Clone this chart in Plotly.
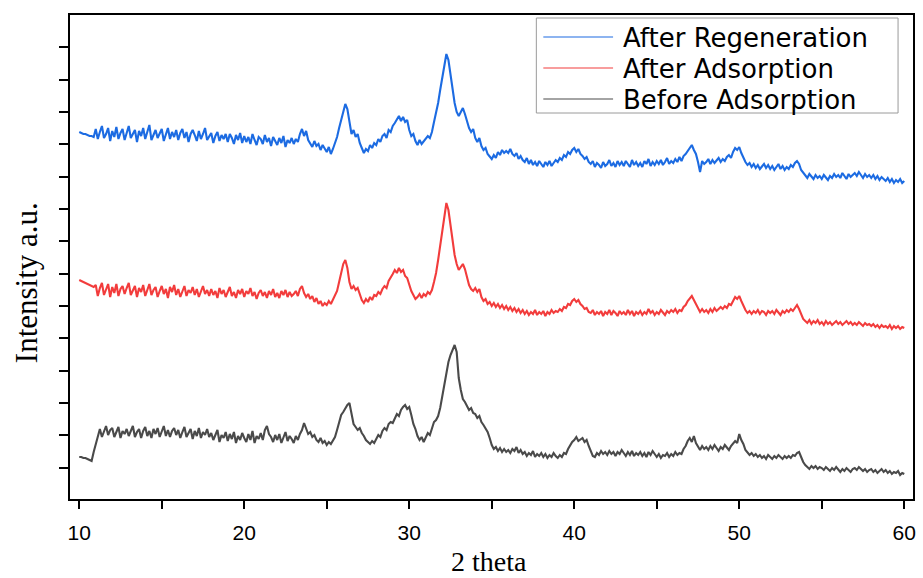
import plotly.graph_objects as go

# 2-theta scan: 10..60 deg, 0.125 deg step (8 points per degree)
TWO_THETA_START = 10.0
TWO_THETA_STEP = 0.125
N_POINTS = 401
two_theta = [round(TWO_THETA_START + TWO_THETA_STEP * i, 3) for i in range(N_POINTS)]

# Intensities (a.u., stacked); one row per degree
after_regeneration = [
    368, 367, 366, 366, 365, 364, 364, 363,   # 10
    371, 361, 368, 374, 362, 366, 372, 359,   # 11
    369, 363, 373, 361, 367, 371, 360, 368,   # 12
    374, 362, 366, 370, 358, 369, 364, 372,   # 13
    361, 368, 375, 360, 366, 370, 362, 367,   # 14
    371, 359, 366, 372, 361, 368, 363, 370,   # 15
    360, 367, 371, 362, 368, 358, 366, 370,   # 16
    365, 359, 369, 361, 366, 372, 360, 364,   # 17
    367, 357, 364, 368, 359, 365, 361, 366,   # 18
    358, 366, 362, 356, 365, 360, 367, 357,   # 19
    364, 358, 363, 356, 366, 360, 355, 363,   # 20
    361, 356, 365, 358, 362, 354, 363, 359,   # 21
    355, 362, 357, 364, 353, 360, 357, 362,   # 22
    356, 361, 358, 366, 371, 364, 369, 360,   # 23
    357, 353, 359, 354, 356, 350, 355, 351,   # 24
    348, 353, 346, 351, 357, 363, 372, 380,   # 25
    388, 396, 391, 377, 366, 370, 363, 366,   # 26
    357, 352, 347, 351, 349, 355, 352, 357,   # 27
    355, 361, 358, 364, 366, 362, 370, 368,   # 28
    374, 377, 380, 384, 379, 383, 378, 380,   # 29
    370, 364, 366, 359, 355, 360, 356, 359,   # 30
    361, 364, 362, 368, 378, 386, 397, 410,   # 31
    422, 433, 446, 440, 425, 412, 397, 388,   # 32
    384, 388, 392, 386, 378, 372, 368, 371,   # 33
    362, 358, 362, 354, 350, 352, 346, 343,   # 34
    341, 345, 342, 348, 345, 350, 347, 349,   # 35
    347, 351, 346, 344, 347, 341, 344, 340,   # 36
    338, 342, 336, 340, 335, 338, 334, 339,   # 37
    336, 333, 338, 335, 339, 334, 337, 340,   # 38
    338, 342, 340, 345, 343, 348, 346, 350,   # 39
    352, 348, 351, 346, 344, 341, 343, 338,   # 40
    336, 339, 333, 337, 335, 332, 338, 334,   # 41
    336, 340, 334, 337, 333, 339, 335, 338,   # 42
    334, 339, 336, 333, 340, 335, 338, 334,   # 43
    337, 333, 339, 336, 341, 334, 338, 335,   # 44
    339, 336, 340, 335, 338, 342, 336, 339,   # 45
    337, 341, 338, 343, 339, 344, 346, 349,   # 46
    351, 355, 350, 346, 338, 328, 339, 336,   # 47
    338, 341, 336, 340, 337, 339, 342, 338,   # 48
    341, 339, 343, 345, 342, 348, 352, 350,   # 49
    353, 347, 342, 338, 335, 337, 333, 336,   # 50
    332, 335, 331, 334, 336, 332, 335, 331,   # 51
    334, 330, 333, 336, 331, 334, 330, 333,   # 52
    331, 335, 333, 337, 339, 336, 330, 327,   # 53
    325, 322, 326, 323, 321, 325, 322, 324,   # 54
    321, 325, 323, 320, 324, 322, 326, 323,   # 55
    325, 322, 327, 324, 321, 326, 323, 325,   # 56
    327, 324, 328, 325, 322, 326, 323, 325,   # 57
    322, 325, 321, 324, 320, 323, 321, 319,   # 58
    322, 318, 321, 317, 320, 318, 321, 317,   # 59
    319,                                      # 60
]

after_adsorption = [
    220, 219, 218, 217, 216, 215, 214, 213,   # 10
    215, 204, 212, 217, 205, 211, 216, 203,   # 11
    213, 207, 216, 204, 211, 214, 206, 212,   # 12
    217, 205, 210, 214, 203, 212, 208, 215,   # 13
    204, 211, 216, 205, 210, 213, 203, 209,   # 14
    214, 206, 211, 202, 213, 208, 215, 205,   # 15
    211, 203, 209, 214, 204, 210, 207, 213,   # 16
    205, 211, 203, 209, 214, 206, 210, 204,   # 17
    211, 205, 209, 202, 212, 206, 210, 203,   # 18
    209, 213, 204, 208, 202, 210, 206, 211,   # 19
    203, 209, 206, 212, 204, 208, 201, 207,   # 20
    210, 204, 208, 202, 209, 205, 211, 203,   # 21
    207, 202, 209, 205, 210, 203, 208, 204,   # 22
    206, 209, 204, 211, 214, 207, 203, 206,   # 23
    201, 204, 198, 202, 196, 199, 194, 197,   # 24
    195, 199, 196, 200, 204, 209, 218, 228,   # 25
    236, 240, 232, 218, 211, 214, 210, 212,   # 26
    205, 200, 197, 201, 198, 203, 200, 205,   # 27
    204, 208, 206, 211, 214, 212, 219, 222,   # 28
    226, 230, 227, 232, 228, 230, 224, 222,   # 29
    214, 209, 205, 201, 203, 206, 202, 206,   # 30
    204, 208, 206, 210, 218, 227, 240, 255,   # 31
    272, 285, 297, 290, 273, 258, 245, 236,   # 32
    230, 233, 236, 231, 222, 215, 211, 209,   # 33
    212, 208, 211, 203, 199, 201, 196, 198,   # 34
    194, 197, 193, 196, 192, 195, 191, 194,   # 35
    190, 193, 189, 192, 188, 191, 187, 190,   # 36
    186, 189, 185, 188, 186, 190, 185, 188,   # 37
    186, 189, 184, 188, 186, 190, 187, 189,   # 38
    188, 191, 189, 193, 192, 196, 195, 199,   # 39
    201, 198, 200, 196, 194, 191, 192, 188,   # 40
    187, 190, 185, 188, 186, 189, 184, 188,   # 41
    186, 190, 185, 189, 187, 184, 189, 186,   # 42
    188, 185, 190, 186, 189, 184, 188, 186,   # 43
    189, 185, 188, 186, 191, 187, 189, 185,   # 44
    188, 186, 190, 187, 185, 189, 187, 190,   # 45
    188, 191, 187, 190, 189, 193, 195, 199,   # 46
    201, 204, 200, 196, 192, 188, 191, 188,   # 47
    190, 187, 191, 188, 192, 189, 191, 193,   # 48
    191, 194, 192, 196, 195, 199, 203, 201,   # 49
    204, 199, 194, 190, 187, 189, 186, 189,   # 50
    187, 190, 186, 189, 188, 185, 189, 187,   # 51
    189, 186, 190, 187, 185, 189, 187, 190,   # 52
    188, 191, 189, 192, 195, 191, 185, 181,   # 53
    179, 177, 180, 176, 179, 177, 180, 176,   # 54
    178, 175, 179, 176, 178, 175, 177, 179,   # 55
    176, 178, 175, 177, 179, 176, 178, 175,   # 56
    177, 175, 178, 176, 174, 177, 175, 176,   # 57
    174, 176, 173, 175, 172, 175, 173, 174,   # 58
    172, 175, 171, 174, 172, 174, 171, 173,   # 59
    172,                                      # 60
]

before_adsorption = [
    43, 43, 42, 42, 41, 40, 39, 48,   # 10
    56, 64, 71, 63, 69, 74, 65, 70,   # 11
    72, 63, 68, 73, 62, 69, 66, 71,   # 12
    64, 70, 74, 63, 68, 71, 62, 69,   # 13
    73, 64, 69, 62, 71, 66, 72, 63,   # 14
    68, 74, 64, 70, 63, 69, 72, 65,   # 15
    70, 62, 68, 73, 63, 67, 71, 61,   # 16
    69, 64, 72, 62, 68, 65, 71, 63,   # 17
    67, 60, 66, 70, 58, 65, 62, 68,   # 18
    59, 66, 61, 68, 57, 64, 60, 67,   # 19
    62, 58, 66, 60, 69, 57, 64, 61,   # 20
    67, 60, 70, 74, 66, 63, 58, 65,   # 21
    60, 66, 57, 63, 68, 59, 64, 61,   # 22
    57, 64, 60, 66, 70, 77, 71, 66,   # 23
    68, 63, 65, 60, 58, 62, 57, 59,   # 24
    55, 58, 56, 60, 63, 70, 78, 85,   # 25
    88, 92, 95, 97, 86, 76, 73, 70,   # 26
    72, 67, 64, 60, 58, 56, 59, 57,   # 27
    61, 65, 63, 69, 72, 70, 76, 78,   # 28
    77, 82, 86, 84, 90, 93, 95, 91,   # 29
    93, 85, 76, 71, 64, 60, 63, 58,   # 30
    62, 67, 65, 72, 78, 80, 84, 92,   # 31
    104, 118, 130, 138, 145, 150, 155, 148,   # 32
    122, 110, 101, 98, 94, 90, 92, 87,   # 33
    86, 82, 84, 78, 75, 72, 68, 62,   # 34
    55, 51, 53, 49, 52, 48, 51, 48,   # 35
    50, 47, 51, 49, 53, 47, 50, 46,   # 36
    48, 44, 47, 45, 49, 43, 46, 44,   # 37
    47, 43, 46, 42, 45, 43, 47, 44,   # 38
    42, 45, 43, 47, 46, 51, 55, 58,   # 39
    60, 63, 59, 61, 62, 58, 60, 54,   # 40
    48, 44, 43, 47, 45, 49, 46, 48,   # 41
    45, 49, 46, 48, 44, 48, 46, 50,   # 42
    47, 44, 48, 45, 49, 44, 47, 45,   # 43
    48, 44, 47, 43, 48, 45, 49, 46,   # 44
    43, 46, 42, 45, 44, 47, 43, 46,   # 45
    44, 48, 45, 47, 46, 51, 54, 59,   # 46
    62, 58, 64, 57, 53, 50, 54, 51,   # 47
    53, 50, 54, 51, 55, 52, 49, 53,   # 48
    51, 55, 52, 50, 54, 56, 59, 57,   # 49
    66, 60, 56, 50, 47, 45, 47, 44,   # 50
    46, 43, 45, 42, 44, 41, 45, 43,   # 51
    41, 44, 42, 45, 43, 41, 44, 42,   # 52
    44, 42, 45, 44, 47, 48, 43, 38,   # 53
    35, 33, 31, 34, 32, 34, 31, 33,   # 54
    32, 30, 33, 31, 29, 32, 30, 33,   # 55
    30, 28, 31, 29, 32, 30, 28, 31,   # 56
    32, 30, 33, 31, 29, 31, 28, 30,   # 57
    31, 28, 30, 27, 29, 31, 28, 30,   # 58
    27, 29, 26, 28, 27, 29, 25, 27,   # 59
    26,                               # 60
]

series_names = ["After Regeneration", "After Adsorption", "Before Adsorption"]
series_values = [after_regeneration, after_adsorption, before_adsorption]
series_colors = ["#1c6be2", "#f23c3c", "#4a4a4a"]

x_tick_vals = [10, 20, 30, 40, 50, 60]
x_tick_text = ["10", "20", "30", "40", "50", "60"]

X_RANGE = [9.44, 60.53]
Y_RANGE = [1, 485]
left_y_ticks = [32.2 + 32.35 * k for k in range(14)]
right_y_ticks = [45 + 49 * k for k in range(9)]
top_major = [19.64, 29.87, 40.07, 50.31]
top_minor = [14.58, 24.79, 34.99, 45.22, 55.36]

W, H = 923, 578
ML, MR, MT, MB = 70, 7, 15, 79
PW, PH = W - ML - MR, H - MT - MB


def px(xp):
    return (xp - ML) / PW


def py(yp):
    return (H - MB - yp) / PH


fig = go.Figure()
for name, vals, col in zip(series_names, series_values, series_colors):
    n = min(len(vals), len(two_theta))
    fig.add_trace(go.Scatter(
        x=two_theta[:n], y=vals[:n], mode="lines", name=name,
        line=dict(color=col, width=2.1), showlegend=False,
    ))

# legend box drawn by hand (to match the wide reference legend)
shapes = [dict(type="rect", xref="paper", yref="paper",
               x0=px(538), x1=px(901), y0=py(113), y1=py(18),
               line=dict(color="#9a9a9a", width=1), fillcolor="white",
               layer="above")]
annotations = []
row_y = [37, 68, 99]
for name, col, ry in zip(series_names, series_colors, row_y):
    shapes.append(dict(type="line", xref="paper", yref="paper",
                       x0=px(545), x1=px(615), y0=py(ry), y1=py(ry),
                       line=dict(color=col, width=1.2), layer="above"))
    annotations.append(dict(text=name, xref="paper", yref="paper",
                            x=px(623), y=py(ry + 1), xanchor="left", yanchor="middle",
                            showarrow=False,
                            font=dict(family="DejaVu Sans", size=26, color="black")))

annotations += [
    dict(text="2 theta", xref="paper", yref="paper", x=px(490), y=py(561),
         xanchor="center", yanchor="middle", showarrow=False,
         font=dict(family="Liberation Serif", size=28, color="black")),
    dict(text="Intensity a.u.", xref="paper", yref="paper", x=px(27), y=py(283),
         xanchor="center", yanchor="middle", showarrow=False, textangle=-90,
         font=dict(family="Liberation Serif", size=31, color="black")),
]

fig.update_layout(
    width=W, height=H,
    margin=dict(l=ML, r=MR, t=MT, b=MB),
    paper_bgcolor="white", plot_bgcolor="white",
    showlegend=False,
    shapes=shapes,
    annotations=annotations,
    xaxis=dict(
        range=X_RANGE, tickvals=x_tick_vals, ticktext=x_tick_text,
        ticks="outside", ticklen=8, tickwidth=1.5, tickcolor="black",
        ticklabelstandoff=6,
        minor=dict(tickvals=[15, 25, 35, 45, 55], ticks="outside", ticklen=8,
                   tickwidth=1.5, tickcolor="black"),
        showline=True, linecolor="black", linewidth=2, mirror=True,
        showgrid=False, zeroline=False,
        tickfont=dict(family="Liberation Sans", size=21, color="black"),
    ),
    xaxis2=dict(
        range=X_RANGE, overlaying="x", side="top", anchor="y",
        tickvals=top_major, ticks="inside", ticklen=9, tickwidth=1.5,
        tickcolor="black", showticklabels=False,
        minor=dict(tickvals=top_minor, ticks="inside", ticklen=6,
                   tickwidth=1.5, tickcolor="black"),
        showline=False, showgrid=False, zeroline=False,
    ),
    yaxis=dict(
        range=Y_RANGE, tickvals=left_y_ticks, ticks="outside", ticklen=9,
        tickwidth=1.5, tickcolor="black", showticklabels=False,
        showline=True, linecolor="black", linewidth=2, mirror=True,
        showgrid=False, zeroline=False,
    ),
    yaxis2=dict(
        range=Y_RANGE, overlaying="y", side="right", anchor="x",
        tickvals=right_y_ticks, ticks="inside", ticklen=9, tickwidth=1.5,
        tickcolor="black", showticklabels=False,
        showline=False, showgrid=False, zeroline=False,
    ),
)

fig.write_html("out.html", config={"displayModeBar": False},
               post_script="document.body.style.margin='0';")
